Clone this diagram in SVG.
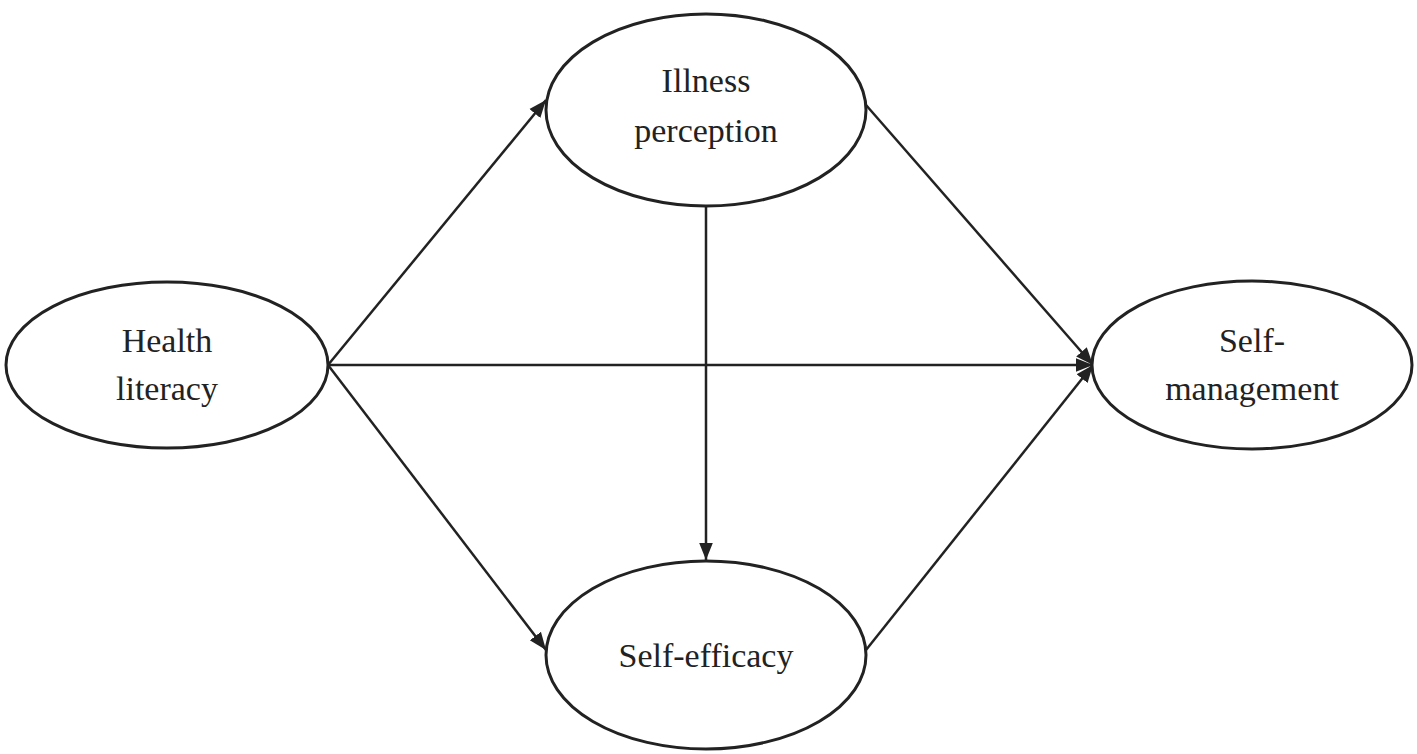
<svg xmlns="http://www.w3.org/2000/svg" width="1417" height="754" viewBox="0 0 1417 754">
<style>
.n{fill:#fff;stroke:#222;stroke-width:3}
.t{font-family:"Liberation Serif",serif;font-size:34px;fill:#222;text-anchor:middle}
.c{stroke:#222;stroke-width:2.5;fill:none;marker-end:url(#a)}
</style>
<defs><marker id="a" viewBox="0 0 10 10" refX="10" refY="5" markerWidth="7" markerHeight="7" orient="auto" markerUnits="strokeWidth"><path d="M0,1 L10,5 L0,9 Z" fill="#222"/></marker></defs>
<rect width="1417" height="754" fill="#fff"/>
<g id="connectors">
<line class="c" x1="328" y1="365" x2="546" y2="100"/>
<line class="c" x1="328" y1="365" x2="1093" y2="365"/>
<line class="c" x1="328" y1="365" x2="546" y2="650"/>
<line class="c" x1="706" y1="197" x2="706" y2="560"/>
<line class="c" x1="866" y1="105" x2="1093" y2="365"/>
<line class="c" x1="866" y1="650" x2="1093" y2="365"/>
</g>
<g id="health"><ellipse class="n" cx="167" cy="365" rx="161" ry="83"/><text class="t" x="167" y="352">Health</text><text class="t" x="167" y="400">literacy</text></g>
<g id="illness"><ellipse class="n" cx="706" cy="110" rx="160" ry="96"/><text class="t" x="706" y="92">Illness</text><text class="t" x="706" y="142">perception</text></g>
<g id="efficacy"><ellipse class="n" cx="706" cy="655" rx="160" ry="94"/><text class="t" x="706" y="667">Self-efficacy</text></g>
<g id="management"><ellipse class="n" cx="1252" cy="365" rx="160" ry="84"/><text class="t" x="1252" y="352">Self-</text><text class="t" x="1252" y="400">management</text></g>
</svg>
